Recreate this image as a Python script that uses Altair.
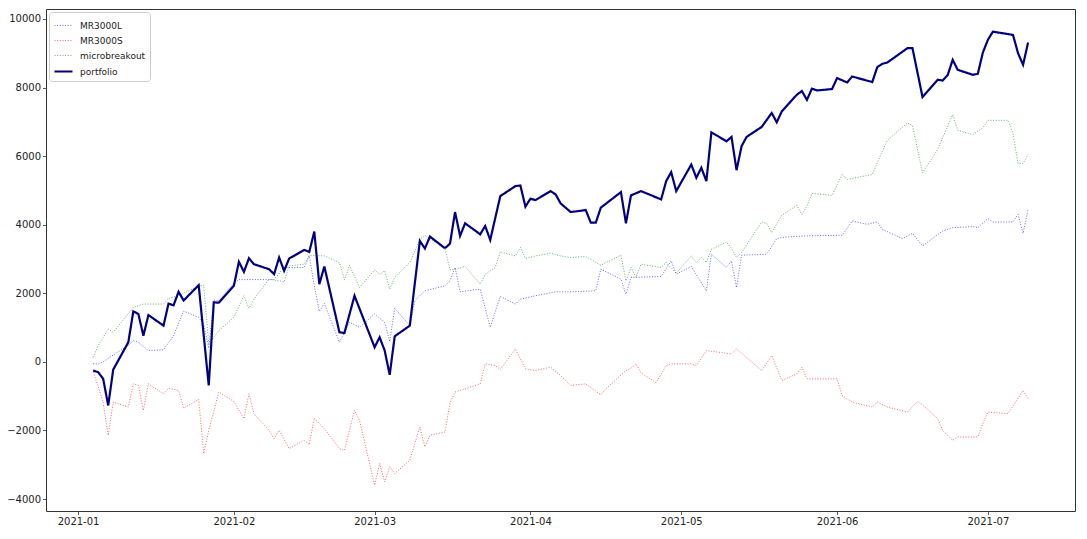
import altair as alt
import pandas as pd

YEAR = "2021-"

# MR3000L (blue dotted)
L_dates = ["01-04","01-05","01-06","01-08","01-11","01-12","01-13","01-15","01-18","01-20","01-22","01-25","01-26","01-27","01-28","01-29",
           "02-01","02-02","02-09","02-11","02-15","02-16","02-17","02-18","02-19","02-22","02-24","02-26",
           "03-01","03-03","03-04","03-05","03-08","03-09","03-11","03-15","03-16","03-17","03-18","03-22","03-24","03-26","03-29","03-30",
           "04-02","04-06","04-09","04-14","04-15","04-19","04-20","04-21","04-27","04-29","04-30",
           "05-03","05-06","05-07","05-10","05-11","05-12","05-13","05-18","05-20","05-21","05-24","05-27",
           "06-02","06-04","06-07","06-09","06-10","06-14","06-16","06-18","06-22","06-24","06-28","06-29",
           "07-01","07-02","07-06","07-07","07-08","07-09"]
L_vals = [-50,-60,0,200,480,620,572,329,350,765,1480,1299,1100,400,1800,1780,
          2300,2400,2400,2753,2753,3090,2218,1474,1700,572,1154,1009,
          1395,1154,591,1561,1056,1782,2073,2218,2363,2753,2044,2122,1009,1910,1686,1831,
          1927,2044,2044,2073,2703,2413,1977,2462,2491,2945,2558,
          2780,2073,3140,2753,2945,2170,3110,3140,3595,3630,3660,3680,
          3692,4108,4012,4079,3866,3595,3750,3381,3817,3915,3945,3915,
          4177,4079,4079,4302,3750,4448]

# MR3000S (red dotted)
S_dates = ["01-04","01-05","01-06","01-07","01-08","01-11","01-12","01-13","01-14","01-15","01-18","01-19","01-21","01-22","01-25","01-26","01-27","01-28","01-29",
           "02-01","02-03","02-04","02-05","02-08","02-09","02-10","02-12","02-15","02-16","02-17","02-18","02-19","02-22","02-23","02-25","02-26",
           "03-01","03-02","03-03","03-04","03-05","03-08","03-10","03-11","03-12","03-15","03-16","03-17","03-19","03-22","03-23","03-25","03-26","03-29","03-31",
           "04-02","04-05","04-07","04-09","04-12","04-15","04-16","04-20","04-21","04-22","04-23","04-26","04-28","04-29",
           "05-03","05-04","05-06","05-11","05-12","05-17","05-19","05-21","05-24","05-25","05-26","05-31",
           "06-01","06-02","06-04","06-08","06-09","06-11","06-15","06-17","06-18","06-21","06-22","06-24","06-25","06-29","06-30",
           "07-01","07-05","07-08","07-09"]
S_vals = [-300,-700,-1200,-2142,-1172,-1317,-640,-688,-1416,-640,-930,-765,-834,-1346,-1096,-2674,-2000,-1440,-881,
          -1154,-1657,-930,-1512,-1997,-2238,-1997,-2529,-2288,-2413,-1637,-1802,-1948,-2529,-2578,-1416,-1706,
          -3596,-2965,-3497,-3061,-3256,-2869,-1898,-2480,-2142,-2044,-1200,-881,-785,-640,-58,-107,-224,378,-204,
          -253,-155,-398,-688,-640,-959,-785,-253,-184,-58,-320,-610,-107,-58,
          -58,-107,329,233,378,-253,184,-543,-349,-155,-494,-494,
          -494,-980,-1172,-1317,-1172,-1317,-1462,-1154,-1250,-1650,-2000,-2288,-2190,-2190,-1802,
          -1462,-1512,-834,-1076]

# microbreakout (green dotted)
M_dates = ["01-04","01-05","01-07","01-08","01-12","01-14","01-18","01-19","01-21","01-25","01-26","01-27","01-29",
           "02-01","02-03","02-04","02-05","02-08","02-11","02-12","02-15","02-16","02-19","02-22","02-23","02-24","02-26",
           "03-01","03-02","03-03","03-04","03-05","03-08","03-10","03-11","03-12","03-15","03-16","03-17","03-19","03-22","03-23","03-25","03-26","03-29","03-30","03-31",
           "04-02","04-05","04-07","04-09","04-12","04-15","04-19","04-20","04-21","04-22","04-23","04-27","04-28","04-30",
           "05-03","05-04","05-05","05-06","05-07","05-10","05-11","05-12","05-13","05-17","05-18","05-19","05-21","05-24","05-25","05-26","05-27","05-31",
           "06-02","06-03","06-08","06-10","06-11","06-15","06-16","06-18","06-21","06-22","06-24","06-25","06-28","06-30",
           "07-01","07-05","07-06","07-07","07-08","07-09"]
M_vals = [136,474,959,863,1590,1686,1686,1850,1927,2218,2238,523,910,
          1299,1927,1561,1831,2413,2334,2800,2849,3110,3090,2897,2393,2820,2170,
          2684,2558,2655,2122,2462,2897,3576,3692,3600,3300,2684,2703,2782,2267,2558,2753,3207,3090,3334,3015,
          3090,3169,3090,3043,3072,2820,3110,2363,2753,2462,2849,2753,2897,2587,
          3090,2897,3043,2897,3285,3498,3305,3043,3188,4079,4041,3770,4273,4564,4302,4544,4913,4855,
          5465,5320,5465,6143,6462,6968,6890,5514,6192,6532,7209,6753,6628,6823,
          7044,7044,6657,5785,5785,6047]

# portfolio (navy solid)
P_dates = ["01-04","01-05","01-06","01-07","01-08","01-11","01-12","01-13","01-14","01-15","01-18","01-19","01-20","01-21","01-22","01-25","01-27","01-28","01-29",
           "02-01","02-02","02-03","02-04","02-05","02-08","02-09","02-10","02-11","02-12","02-15","02-16","02-17","02-18","02-19","02-22","02-23","02-25",
           "03-01","03-02","03-03","03-04","03-05","03-08","03-10","03-11","03-12","03-15","03-16","03-17","03-18","03-19","03-22","03-23","03-24","03-26","03-29","03-30","03-31",
           "04-01","04-02","04-05","04-06","04-07","04-09","04-12","04-13","04-14","04-15","04-19","04-20","04-21","04-23","04-27","04-28","04-29","04-30",
           "05-03","05-04","05-05","05-06","05-07","05-10","05-11","05-12","05-13","05-14","05-17","05-19","05-20","05-21","05-24","05-25","05-26","05-27","05-28","05-31",
           "06-01","06-03","06-04","06-08","06-09","06-10","06-11","06-15","06-16","06-18","06-21","06-22","06-23","06-24","06-25","06-28","06-29","06-30",
           "07-01","07-02","07-06","07-07","07-08","07-09"]
P_vals = [-253,-300,-494,-1270,-224,572,1474,1395,765,1366,1056,1700,1650,2044,1790,2238,-688,1735,1725,
          2218,2920,2625,3023,2849,2703,2558,3043,2655,3015,3265,3207,3800,2267,2782,863,843,1927,
          427,718,329,-378,747,1056,3527,3305,3654,3314,3450,4369,3672,4041,3721,3962,3555,4834,5125,5145,4526,
          4759,4718,4980,4884,4622,4369,4427,4061,4061,4497,4951,4041,4855,4980,4738,5270,5532,4980,
          5756,5369,5660,5270,6695,6433,6561,5590,6288,6561,6852,7259,6986,7305,7791,7900,7640,7970,7916,7956,
          8276,8148,8323,8160,8596,8692,8730,9149,9149,7724,8227,8207,8363,8808,8518,8372,8401,9020,
          9390,9631,9535,9003,8663,9311]

names = ["MR3000L", "MR3000S", "microbreakout", "portfolio"]
colors = ["#0000ff", "#ff0000", "#008000", "#000080"]
dashes = [[1, 1.65], [1, 1.65], [1, 1.65], [1, 0]]
widths = [1, 1, 1, 2.2]
opacities = [0.6, 0.6, 0.6, 1.0]

frames = []
for n, d, v in [("MR3000L", L_dates, L_vals), ("MR3000S", S_dates, S_vals),
                ("microbreakout", M_dates, M_vals), ("portfolio", P_dates, P_vals)]:
    frames.append(pd.DataFrame({"date": [YEAR + s for s in d], "value": v, "series": n}))
df = pd.concat(frames, ignore_index=True)

y_ticks = [-4000, -2000, 0, 2000, 4000, 6000, 8000, 10000]
x_ticks = [alt.DateTime(year=2021, month=m, date=1, utc=True) for m in range(1, 8)]

legend = alt.Legend(title=None, orient="top-left", offset=3, fillColor="white",
                    strokeColor="#cccccc", padding=4, cornerRadius=3,
                    labelFont="DejaVu Sans", labelFontSize=9, labelColor="#222",
                    symbolType="stroke", symbolSize=324, rowPadding=-7, labelOffset=6)

chart = alt.Chart(df).mark_line(strokeCap="butt").encode(
    x=alt.X("date:T",
            scale=alt.Scale(type="utc",
                            domain=[alt.DateTime(year=2020, month=12, date=25, hours=15, utc=True),
                                    alt.DateTime(year=2021, month=7, date=18, hours=8, utc=True)]),
            axis=alt.Axis(values=x_ticks, labelExpr="utcFormat(datum.value, '%Y-%m')", title=None,
                          grid=False, labelAngle=0)),
    y=alt.Y("value:Q", scale=alt.Scale(domain=[-4349, 10291], nice=False, zero=False),
            axis=alt.Axis(values=y_ticks, format="d", title=None, grid=False)),
    color=alt.Color("series:N", scale=alt.Scale(domain=names, range=colors), legend=legend),
    strokeDash=alt.StrokeDash("series:N", scale=alt.Scale(domain=names, range=dashes), legend=legend),
    strokeWidth=alt.StrokeWidth("series:N", scale=alt.Scale(type="ordinal", domain=names, range=widths), legend=legend),
    opacity=alt.Opacity("series:N", scale=alt.Scale(type="ordinal", domain=names, range=opacities), legend=legend),
    order=alt.Order("series:N"),
).properties(
    width=1029, height=502,
    autosize=alt.AutoSizeParams(type="none"),
    padding={"left": 38, "top": 1, "right": 4, "bottom": 18},
).configure_view(
    stroke="#333333", strokeWidth=1
).configure_axis(
    domain=False, tickColor="#333333", tickSize=3.5, tickWidth=0.8,
    labelFont="DejaVu Sans", labelFontSize=10, labelColor="#222222", labelPadding=2
)

chart.save("out.html", embed_options={"renderer": "svg", "actions": False})
